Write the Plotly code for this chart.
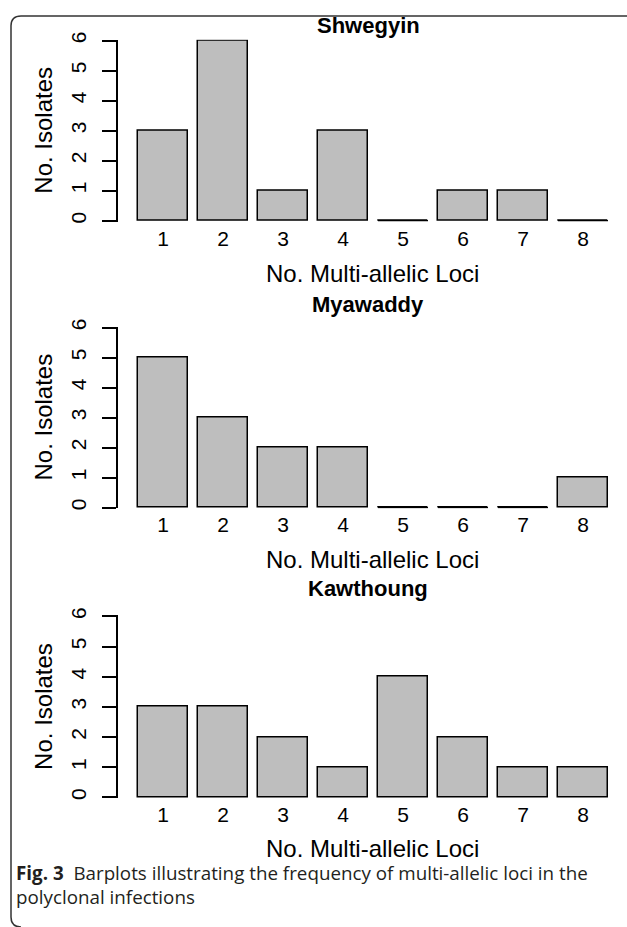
import plotly.graph_objects as go

# ---- data ----
loci = [1, 2, 3, 4, 5, 6, 7, 8]
loci_labels = ["1", "2", "3", "4", "5", "6", "7", "8"]
sites = ["Shwegyin", "Myawaddy", "Kawthoung"]
shwegyin = [3, 6, 1, 3, 0, 1, 1, 0]
myawaddy = [5, 3, 2, 2, 0, 0, 0, 1]
kawthoung = [3, 3, 2, 1, 4, 2, 1, 1]
y_ticks = [0, 1, 2, 3, 4, 5, 6]
x_title = "No. Multi-allelic Loci"
y_title = "No. Isolates"
caption = ("<b>Fig. 3</b>  Barplots illustrating the frequency of multi-allelic loci in the"
           "<br>polyclonal infections")

# ---- layout constants (pixels) ----
W, H = 627, 927
FILL = "#BEBEBE"
FONT = "Liberation Sans, Arial, sans-serif"
CAP_FONT = "Open Sans, Noto Sans, sans-serif"
panels_px = [(33, 215), (323, 505), (615, 798)]  # pixel rows of y=6 and y=0
title_px = [18, 300, 587]
xlab_title_px = [268, 558, 850]
axis_left_px = 118
first_center_px = 163
step_px = 60
bar_w = 50 / 60
y_lo, y_hi = -0.03, 6.03

x_lo = 1 - (first_center_px - axis_left_px) / step_px
x_hi = 1 + (W - first_center_px) / step_px


def px_x(p):
    return p / W


def px_y(p):
    return 1 - p / H


fig = go.Figure()
series = [shwegyin, myawaddy, kawthoung]
annotations = []
for k, (name, vals) in enumerate(zip(sites, series)):
    sfx = "" if k == 0 else str(k + 1)
    fig.add_trace(go.Bar(
        x=loci, y=vals, width=bar_w,
        marker=dict(color=FILL, line=dict(color="black", width=1.5)),
        xaxis="x" + sfx, yaxis="y" + sfx, showlegend=False, name=name,
    ))
    # zero-height bars drawn as a flat outline at the baseline
    zx, zy = [], []
    for xv, v in zip(loci, vals):
        if v == 0:
            zx += [xv - bar_w / 2, xv + bar_w / 2, None]
            zy += [v, v, None]
    if zx:
        fig.add_trace(go.Scatter(
            x=zx, y=zy, mode="lines", line=dict(color="black", width=1.5),
            xaxis="x" + sfx, yaxis="y" + sfx, showlegend=False, hoverinfo="skip",
        ))
    py6, py0 = panels_px[k]
    u = (py0 - py6) / 6
    dom_bot = px_y(py0 - y_lo * u)
    dom_top = px_y(py0 - y_hi * u)
    fig.update_layout(**{
        "xaxis" + sfx: dict(
            domain=[px_x(axis_left_px), 1], range=[x_lo, x_hi],
            anchor="y" + sfx, tickvals=loci, ticktext=loci_labels,
            ticks="", showline=False, showgrid=False, zeroline=False,
            tickfont=dict(family=FONT, size=21, color="black"),
            ticklabelstandoff=2,
        ),
        "yaxis" + sfx: dict(
            domain=[dom_bot, dom_top], range=[y_lo, y_hi], anchor="x" + sfx,
            tickvals=y_ticks, ticks="outside", ticklen=14, tickwidth=1.5,
            tickcolor="black", showline=True, linecolor="black", linewidth=1.5,
            showgrid=False, zeroline=False, tickangle=-90,
            tickfont=dict(family=FONT, size=21, color="black"),
            ticklabelstandoff=8,
        ),
    })
    annotations.append(dict(
        text="<b>%s</b>" % name, x=px_x(368), y=px_y(title_px[k]),
        xref="paper", yref="paper", showarrow=False, xanchor="center",
        yanchor="middle", font=dict(family=FONT, size=22, color="black"),
    ))
    annotations.append(dict(
        text=x_title, x=px_x(372), y=px_y(xlab_title_px[k]),
        xref="paper", yref="paper", showarrow=False, xanchor="center",
        yanchor="middle", font=dict(family=FONT, size=24, color="black"),
    ))
    annotations.append(dict(
        text=y_title, x=px_x(44), y=px_y((py0 + py6) / 2), textangle=-90,
        xref="paper", yref="paper", showarrow=False, xanchor="center",
        yanchor="middle", font=dict(family=FONT, size=24, color="black"),
    ))

annotations.append(dict(
    text=caption, x=px_x(14), y=px_y(887), xref="paper", yref="paper",
    showarrow=False, xanchor="left", yanchor="middle", align="left",
    font=dict(family=CAP_FONT, size=18.8, color="#231f20"),
))

# frame around the figure (rounded, open to the right)
r = 10
L, T, B = 11, 8, 929
path = "M {x1},{t} L {a},{t} Q {l},{t} {l},{tb} L {l},{bb} Q {l},{b} {a},{b}".format(
    x1=px_x(W + 20), t=px_y(T), a=px_x(L + r), l=px_x(L), tb=px_y(T + r),
    bb=px_y(B - r), b=px_y(B))
shapes = [dict(type="path", path=path, xref="paper", yref="paper",
               line=dict(color="#333333", width=1.5))]

fig.update_layout(
    width=W, height=H, margin=dict(l=0, r=0, t=0, b=0),
    paper_bgcolor="white", plot_bgcolor="white",
    annotations=annotations, shapes=shapes, bargap=0, showlegend=False,
)

fig.write_html(
    "out.html",
    config={"displayModeBar": False},
    post_script="document.body.style.margin='0';document.body.style.overflow='hidden';",
)
